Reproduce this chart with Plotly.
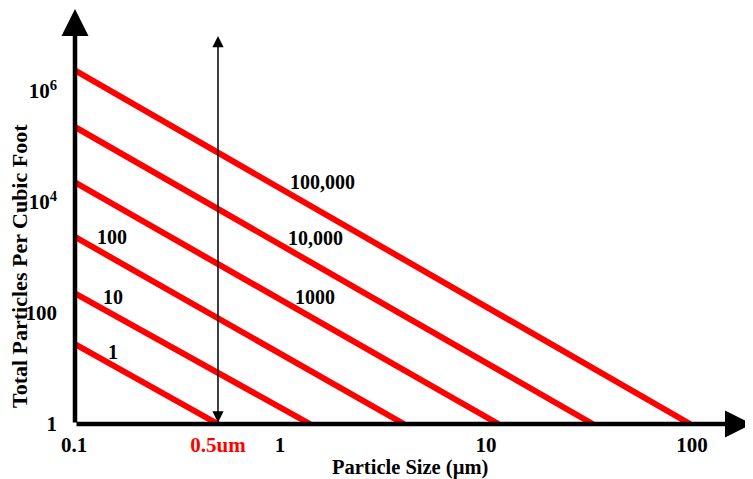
import numpy as np
import plotly.graph_objects as go

# cleanroom classes (FED-STD-209E style chart)
class_labels = ["1", "10", "100", "1000", "10,000", "100,000"]
start_size = 0.1
start_counts = [28, 230, 2400, 23000, 230000, 2400000]
end_sizes = [0.5, 1.4, 4.0, 11.5, 33, 98]
end_count = 1

x_tick_vals = [0.1, 0.5, 1, 10, 100]
x_tick_text = ["0.1", "<span style='color:#ff0000'>0.5um</span>", "1", "10", "100"]
y_tick_vals = [1, 100, 1e4, 1e6]
y_tick_text = ["1", "100", "10<sup>4</sup>", "10<sup>6</sup>"]

serif = "Liberation Serif"
PAGE = 8  # page body margin the figure sits inside
W, H = 753 - PAGE, 479 - PAGE
L = 74 - PAGE
plot_h = 424 - PAGE
B = H - plot_h
plot_w = W - L


def px(xp):
    return (xp - PAGE - L) / plot_w


def py(yp):
    return (plot_h - (yp - PAGE)) / plot_h


def make_fig():
    fig = go.Figure()
    for cnt, xe in zip(start_counts, end_sizes):
        fig.add_trace(go.Scatter(x=[start_size, xe], y=[cnt, end_count], mode="lines",
                                 line=dict(color="#ff0000", width=6), hoverinfo="skip",
                                 showlegend=False))

    # labels on the class lines: (log x, log y)
    label_pos = [(-0.811, 1.30), (-0.811, 2.29), (-0.816, 3.37),
                 (0.170, 2.29), (0.170, 3.35), (0.204, 4.36)]
    for txt, (lx, ly) in zip(class_labels, label_pos):
        fig.add_annotation(x=lx, y=ly, xref="x", yref="y", text="<b>" + txt + "</b>", showarrow=False,
                           xanchor="center", yanchor="middle",
                           font=dict(family=serif, size=20, color="black"))

    # axes drawn as thick arrows
    fig.add_annotation(x=px(75), y=1, xref="paper", yref="paper",
                       ax=0, ay=plot_h, text="", showarrow=True, arrowhead=2,
                       arrowwidth=4.5, arrowsize=1.2, arrowcolor="black")
    fig.add_annotation(x=px(752), y=0, xref="paper", yref="paper",
                       ax=-(752 - 75), ay=0, text="", showarrow=True, arrowhead=2,
                       arrowwidth=4.5, arrowsize=1.2, arrowcolor="black")
    # 0.5 um marker arrow
    fig.add_annotation(x=np.log10(0.5), y=py(36), xref="x", yref="paper",
                       ax=0, ay=424 - 36, text="", showarrow=True, arrowside="end+start",
                       arrowhead=2, startarrowhead=2, arrowwidth=1.5, arrowsize=1.5,
                       startarrowsize=1.5, arrowcolor="black")

    fig.add_annotation(x=px(410), y=py(467), xref="paper", yref="paper",
                       xanchor="center", yanchor="middle",
                       text="<b>Particle Size (µm)</b>", showarrow=False,
                       font=dict(family=serif, size=20.5, color="black"))
    fig.add_annotation(x=px(19), y=py(266), xref="paper", yref="paper",
                       xanchor="center", yanchor="middle",
                       text="<b>Total Particles Per Cubic Foot</b>", textangle=-90, showarrow=False,
                       font=dict(family=serif, size=22, color="black"))

    fig.update_xaxes(type="log", range=[-1, -1 + plot_w / 206], showgrid=False, zeroline=False,
                     showline=False, ticks="", tickvals=x_tick_vals, ticktext=x_tick_text,
                     ticklabelstandoff=6, automargin=False,
                     tickfont=dict(family=serif, size=21, color="black", weight="bold"))
    fig.update_yaxes(type="log", range=[0, plot_h / 55.5], showgrid=False, zeroline=False,
                     showline=False, ticks="", tickvals=y_tick_vals, ticktext=y_tick_text,
                     ticklabelstandoff=16, automargin=False,
                     tickfont=dict(family=serif, size=21, color="black", weight="bold"))
    fig.update_layout(width=W, height=H, margin=dict(l=L, r=0, t=0, b=B),
                      plot_bgcolor="white", paper_bgcolor="white")
    return fig


fig = make_fig()
fig.write_html("out.html")
